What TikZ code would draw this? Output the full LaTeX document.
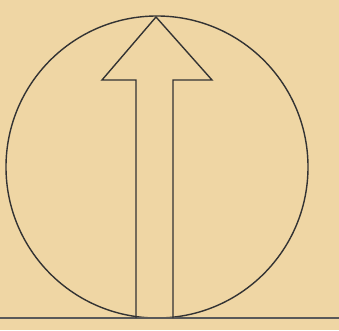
\documentclass[tikz,border=0pt]{standalone}
\begin{document}
\begin{tikzpicture}[x=1pt,y=1pt,
  ink/.style={draw=black!80, line width=1.4pt, line join=miter}]
\definecolor{paper}{HTML}{EFD6A4}
\fill[paper] (0,0) rectangle (339,330);
\useasboundingbox (0,0) rectangle (339,330);
\coordinate (c) at (157,163);
\draw[ink] (c) circle (151);
\coordinate (gl) at (0,12);
\coordinate (gr) at (339,12);
\draw[ink, draw=black!65] (gl) -- (gr);
\draw[ink] (136,12) -- (136,250) -- (102,250) -- (156,313) -- (212,250) -- (173,250) -- (173,12);
\end{tikzpicture}
\end{document}
